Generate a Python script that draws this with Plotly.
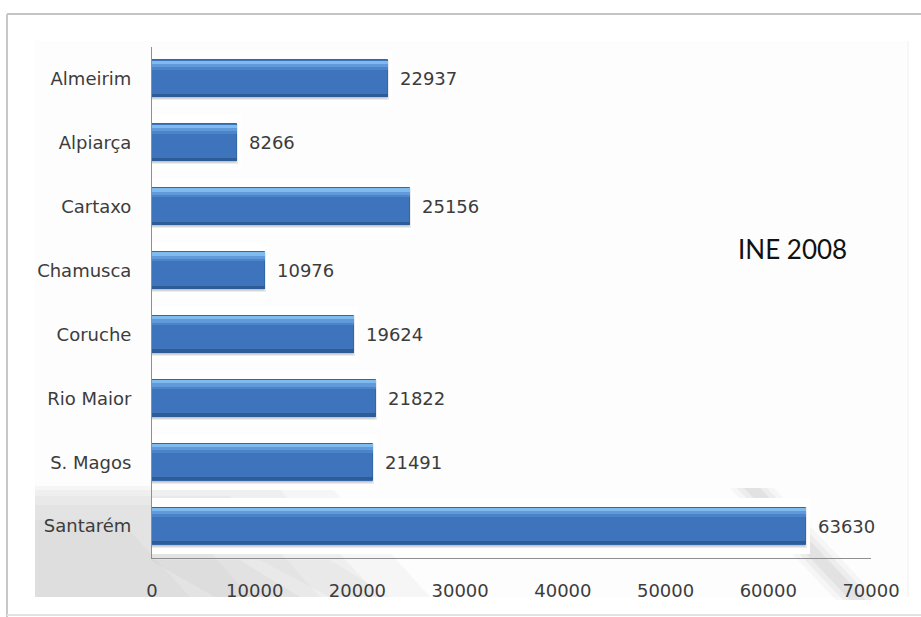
import plotly.graph_objects as go

# Resident population by municipality (INE 2008)
municipios = ["Almeirim", "Alpiarça", "Cartaxo", "Chamusca", "Coruche",
              "Rio Maior", "S. Magos", "Santarém"]
populacao = [22937, 8266, 25156, 10976, 19624, 21822, 21491, 63630]
x_ticks = [0, 10000, 20000, 30000, 40000, 50000, 60000, 70000]
fonte = "INE 2008"

FONT = "DejaVu Sans"
TXT = "#3c3c3c"

# page geometry (pixels) of the plotting area
L, R, T, B = 152, 871, 47, 558
W, H = 921, 617


def px(x):
    return (x - L) / (R - L)


def py(y):
    return (B - y) / (B - T)


def poly(points, color):
    path = "M " + " L ".join(f"{px(a)},{py(b)}" for a, b in points) + " Z"
    return dict(type="path", xref="paper", yref="paper", path=path,
                fillcolor=color, line=dict(width=0), layer="below")


fig = go.Figure()

# white halo around each bar
fig.add_trace(go.Bar(
    y=municipios, x=populacao, orientation="h",
    width=0.74, offset=-0.37,
    marker=dict(color="white", line=dict(color="white", width=8)),
    hoverinfo="skip", showlegend=False,
))
# soft drop shadow
fig.add_trace(go.Bar(
    y=municipios, x=populacao, orientation="h",
    width=0.58, offset=-0.26,
    marker=dict(color="rgba(60,60,60,0.22)",
                line=dict(color="rgba(60,60,60,0.10)", width=3)),
    hoverinfo="skip", showlegend=False,
))
# bar body
fig.add_trace(go.Bar(
    y=municipios, x=populacao, orientation="h",
    width=0.58, offset=-0.29,
    marker=dict(color="#3d74bb", line=dict(color="#3566a8", width=1)),
    showlegend=False,
))
# upper bevel highlight
fig.add_trace(go.Bar(
    y=municipios, x=populacao, orientation="h",
    width=0.05, offset=-0.285,
    marker=dict(color="#80bbf0", line=dict(width=0)),
    hoverinfo="skip", showlegend=False,
))
fig.add_trace(go.Bar(
    y=municipios, x=populacao, orientation="h",
    width=0.05, offset=-0.235,
    marker=dict(color="#619ada", line=dict(width=0)),
    hoverinfo="skip", showlegend=False,
))
fig.add_trace(go.Bar(
    y=municipios, x=populacao, orientation="h",
    width=0.04, offset=-0.185,
    marker=dict(color="#4c84c9", line=dict(width=0)),
    hoverinfo="skip", showlegend=False,
))
# lower bevel
fig.add_trace(go.Bar(
    y=municipios, x=populacao, orientation="h",
    width=0.05, offset=0.235,
    marker=dict(color="#2e5c98", line=dict(width=0)),
    hoverinfo="skip", showlegend=False,
))

# value labels to the right of each bar
for m, v in zip(municipios, populacao):
    fig.add_annotation(
        x=v, y=m, xref="x", yref="y", text=str(v),
        showarrow=False, xanchor="left", xshift=10,
        font=dict(family=FONT, size=18, color=TXT),
    )

fig.add_annotation(
    x=px(792), y=py(249), xref="paper", yref="paper", text=fonte,
    showarrow=False, xanchor="center", yanchor="middle",
    font=dict(family="Lato", size=26, color="#111111"),
)

shapes = [
    # chart area
    dict(type="rect", xref="paper", yref="paper",
         x0=px(35), x1=px(908), y0=py(597), y1=py(41),
         fillcolor="#fdfdfd", line=dict(width=0), layer="below"),
]
# grey floor reflection, lower left (layered for a soft edge)
floor = [
    [(35, 486), (330, 486), (430, 597), (35, 597)],
    [(35, 490), (280, 490), (380, 597), (35, 597)],
    [(35, 496), (230, 496), (320, 597), (35, 597)],
    [(35, 505), (170, 505), (250, 597), (35, 597)],
    [(35, 520), (120, 520), (190, 597), (35, 597)],
]
for pts in floor:
    shapes.append(poly(pts, "rgba(150,150,150,0.07)"))
# diagonal streaks below the axis
shapes.append(poly([(150, 560), (240, 560), (300, 597), (215, 597)],
                   "rgba(150,150,150,0.08)"))
shapes.append(poly([(260, 560), (330, 560), (390, 597), (330, 597)],
                   "rgba(150,150,150,0.06)"))
# diagonal shadow, lower right
for w, a in [(44, 0.06), (30, 0.08), (16, 0.10)]:
    shapes.append(poly([(752 - w / 2, 488), (752 + w / 2, 488),
                        (858 + w / 2, 600), (858 - w / 2, 600)],
                       f"rgba(140,140,140,{a})"))
# outer frame
shapes += [
    dict(type="line", xref="paper", yref="paper",
         x0=px(7), x1=px(921), y0=py(14), y1=py(14),
         line=dict(color="#c4c4c4", width=2)),
    dict(type="line", xref="paper", yref="paper",
         x0=px(7), x1=px(7), y0=py(14), y1=py(617),
         line=dict(color="#c8c8c8", width=2)),
    dict(type="line", xref="paper", yref="paper",
         x0=px(7), x1=px(921), y0=py(615), y1=py(615),
         line=dict(color="#e2e2e2", width=2)),
    dict(type="line", xref="paper", yref="paper",
         x0=px(908), x1=px(908), y0=py(41), y1=py(597),
         line=dict(color="#f0f0f0", width=1)),
]

fig.update_layout(
    width=W, height=H,
    margin=dict(l=L, r=W - R, t=T, b=H - B),
    paper_bgcolor="white",
    plot_bgcolor="rgba(0,0,0,0)",
    barmode="overlay",
    bargap=0,
    shapes=shapes,
    font=dict(family=FONT, size=18, color=TXT),
    xaxis=dict(
        range=[0, 70000], tickvals=x_ticks,
        ticktext=[str(t) for t in x_ticks],
        showgrid=False, zeroline=False,
        showline=True, linecolor="#8f8f8f", linewidth=1,
        ticks="", ticklabelstandoff=16,
        tickfont=dict(family=FONT, size=18, color=TXT),
        fixedrange=True,
    ),
    yaxis=dict(
        type="category", autorange="reversed",
        showgrid=False, zeroline=False,
        showline=True, linecolor="#8f8f8f", linewidth=1,
        ticks="", ticklabelstandoff=16,
        tickfont=dict(family=FONT, size=18, color=TXT),
        fixedrange=True,
    ),
)

fig.write_html("out.html")
